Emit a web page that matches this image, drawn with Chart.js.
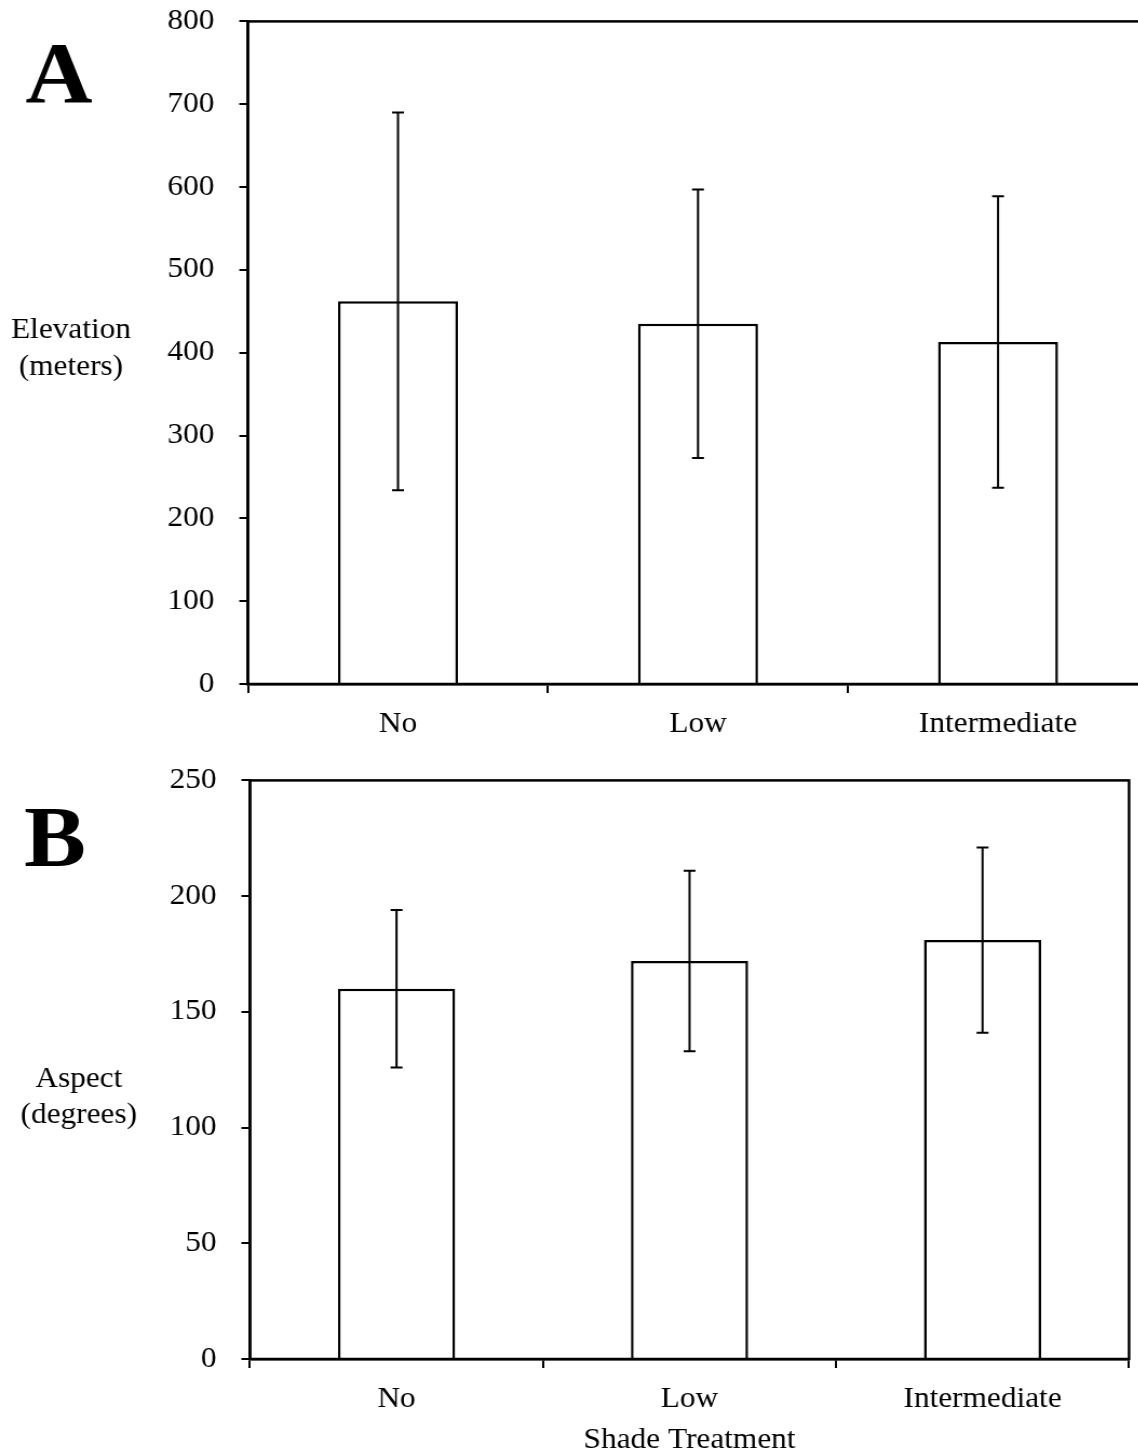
<!DOCTYPE html>
<html>
<head>
<meta charset="utf-8">
<script src="https://cdn.jsdelivr.net/npm/chart.js@4/dist/chart.umd.min.js"></script>
<style>
  html, body { margin: 0; padding: 0; background: #fff; overflow: hidden; width: 1138px; height: 1456px;
               font-family: 'Liberation Serif', serif; }
  /* panels are drawn slightly wide, like the original figure export */
  .panel { position: absolute; left: 0; transform: scaleX(1.08); transform-origin: 0 0; }
  #panelA { top: -19px; }
  #panelB { top: 740px; }
  .warm { position: absolute; left: -999px; top: 0; font: 29px 'Liberation Serif'; }
  .warm b { font: bold 86px 'Liberation Serif'; }
</style>
</head>
<body>
<span class="warm">Elevation 0123 <b>AB</b></span>
<div class="panel" id="panelA"><canvas id="chartA" width="1070" height="759"></canvas></div>
<div class="panel" id="panelB"><canvas id="chartB" width="1053" height="721"></canvas></div>
<script>
// ─── data ────────────────────────────────────────────────────────────────────
const categories = ['No', 'Low', 'Intermediate'];

const elevationMean = [462, 435, 413];
const elevationErr  = [228, 162, 176];
const elevationMax  = 800;
const elevationStep = 100;

const aspectMean = [160, 172, 181];
const aspectErr  = [34, 39, 40];
const aspectMax  = 250;
const aspectStep = 50;

const xTitle = 'Shade Treatment';

// ─── shared look ─────────────────────────────────────────────────────────────
const SERIF = "'Liberation Serif', 'Times New Roman', serif";
const tickFont = { family: SERIF, size: 29 };

// whiskers drawn on top of the bars: mean ± err, with small caps
const errorBars = {
  id: 'errorBars',
  afterDatasetsDraw(chart, args, opts) {
    const { ctx } = chart;
    const y = chart.scales.y;
    const meta = chart.getDatasetMeta(0);
    ctx.save();
    ctx.strokeStyle = '#000';
    ctx.lineWidth = 2;
    meta.data.forEach((bar, i) => {
      const m = opts.mean[i], e = opts.err[i];
      const top = y.getPixelForValue(m + e);
      const bot = y.getPixelForValue(m - e);
      ctx.beginPath();
      ctx.moveTo(bar.x, top); ctx.lineTo(bar.x, bot);
      ctx.moveTo(bar.x - opts.cap, top); ctx.lineTo(bar.x + opts.cap, top);
      ctx.moveTo(bar.x - opts.cap, bot); ctx.lineTo(bar.x + opts.cap, bot);
      ctx.stroke();
    });
    ctx.restore();
  }
};

// box round the plot area
const frame = {
  id: 'frame',
  afterDraw(chart) {
    const { ctx, chartArea: a } = chart;
    ctx.save();
    ctx.strokeStyle = '#000';
    ctx.lineWidth = 2.5;
    ctx.strokeRect(a.left, a.top, a.right - a.left, a.bottom - a.top);
    ctx.restore();
  }
};

// panel letter and the horizontal y-axis caption
const sideText = {
  id: 'sideText',
  afterDraw(chart, args, opts) {
    const { ctx } = chart;
    ctx.save();
    ctx.fillStyle = '#000';
    ctx.textAlign = 'center';
    ctx.textBaseline = 'middle';
    opts.items.forEach(t => {
      ctx.font = t.font;
      ctx.fillText(t.text, t.x, t.y);
    });
    ctx.restore();
  }
};

function makeChart(id, mean, err, yMax, yStep, lay) {
  return new Chart(document.getElementById(id), {
    type: 'bar',
    data: {
      labels: categories,
      datasets: [{
        data: mean,
        backgroundColor: '#fff',
        borderColor: '#000',
        borderWidth: 2.5,
        barPercentage: 0.4,
        categoryPercentage: 1,
      }],
    },
    plugins: [errorBars, frame, sideText],
    options: {
      responsive: false,
      animation: false,
      devicePixelRatio: 1,
      layout: { padding: { top: lay.top, right: lay.right, left: 0, bottom: 0 } },
      plugins: {
        legend: { display: false },
        tooltip: { enabled: false },
        errorBars: { mean, err, cap: 5.5 },
        sideText: { items: lay.text },
      },
      scales: {
        x: {
          offset: true,
          grid: { display: true, offset: true, drawOnChartArea: false, color: '#000', lineWidth: 2, tickLength: 9 },
          border: { display: true, color: '#000', width: 2.5 },
          ticks: { color: '#000', font: tickFont, padding: 14, maxRotation: 0 },
          title: lay.xTitle
            ? { display: true, text: lay.xTitle, color: '#000', font: tickFont, padding: { top: 0, bottom: 3 } }
            : { display: false },
          afterFit(scale) { scale.height = lay.xHeight; },
        },
        y: {
          min: 0,
          max: yMax,
          grid: { display: true, drawOnChartArea: false, color: '#000', lineWidth: 2, tickLength: 8 },
          border: { display: true, color: '#000', width: 2.5 },
          ticks: { stepSize: yStep, color: '#000', font: tickFont, padding: 23 },
          afterFit(scale) { scale.width = lay.yWidth; },
        },
      },
    },
  });
}

function drawAll() {
  // ─── A: elevation ──────────────────────────────────────────────────────────
  makeChart('chartA', elevationMean, elevationErr, elevationMax, elevationStep, {
    top: 40, right: 7, yWidth: 229.6, xHeight: 56,
    text: [
      { text: 'A', x: 54.6, y: 99, font: `bold 86px ${SERIF}` },
      { text: 'Elevation', x: 65.7, y: 349, font: `29px ${SERIF}` },
      { text: '(meters)', x: 65.7, y: 386, font: `29px ${SERIF}` },
    ],
  });

  // ─── B: aspect ─────────────────────────────────────────────────────────────
  makeChart('chartB', aspectMean, aspectErr, aspectMax, aspectStep, {
    top: 40, right: 7.6, yWidth: 231.5, xHeight: 102, xTitle,
    text: [
      { text: 'B', x: 51, y: 104, font: `bold 86px ${SERIF}` },
      { text: 'Aspect', x: 73, y: 339, font: `29px ${SERIF}` },
      { text: '(degrees)', x: 73, y: 375, font: `29px ${SERIF}` },
    ],
  });
}

Promise.all([
  document.fonts.load("29px 'Liberation Serif'"),
  document.fonts.load("bold 86px 'Liberation Serif'"),
]).then(drawAll, drawAll);
</script>
</body>
</html>
